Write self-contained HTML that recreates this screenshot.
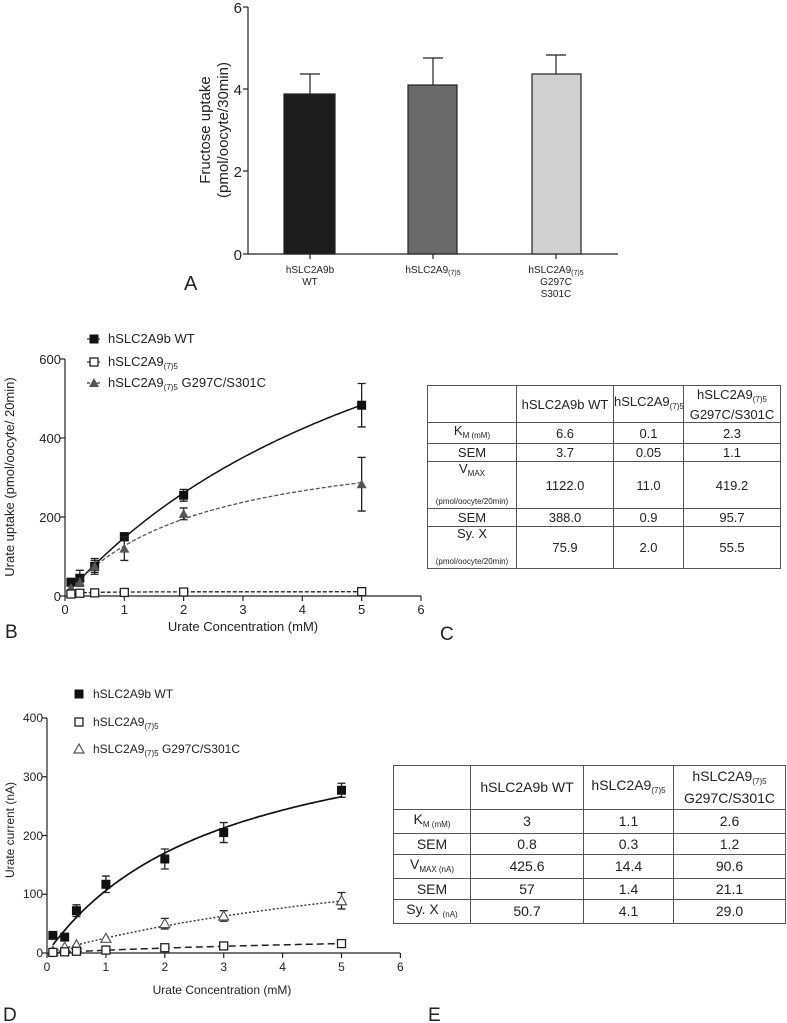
<!DOCTYPE html>
<html><head><meta charset="utf-8"><style>
body{margin:0;background:#fff;width:787px;height:1023px;overflow:hidden;font-family:"Liberation Sans",sans-serif}
svg{position:absolute;left:0;top:0}
table{position:absolute;border-collapse:collapse;font-family:"Liberation Sans",sans-serif;color:#222;table-layout:fixed}
td{border:1px solid #555;text-align:center;padding:0;font-size:13px;line-height:13px}
sub{font-size:8px;vertical-align:-3px}
small{font-size:8px}
</style></head><body>
<svg id="s" width="787" height="1023" font-family="Liberation Sans, sans-serif" fill="#222">
<g stroke="#222" stroke-width="1.2">
<line x1="248" y1="7" x2="248" y2="254"/><line x1="248" y1="254" x2="618" y2="254"/>
<line x1="243" y1="7" x2="248" y2="7"/><line x1="243" y1="89" x2="248" y2="89"/><line x1="243" y1="171" x2="248" y2="171"/><line x1="243" y1="254" x2="248" y2="254"/>
<line x1="310" y1="254" x2="310" y2="259"/><line x1="433" y1="254" x2="433" y2="259"/><line x1="556" y1="254" x2="556" y2="259"/>
<rect x="284" y="94" width="51" height="160" fill="#1c1c1c"/>
<rect x="408" y="85" width="49" height="169" fill="#6a6a6a"/>
<rect x="532" y="74" width="49" height="180" fill="#d0d0d0"/>
<line x1="310" y1="94" x2="310" y2="74"/><line x1="300" y1="74" x2="320" y2="74"/>
<line x1="433" y1="85" x2="433" y2="58"/><line x1="423" y1="58" x2="443" y2="58"/>
<line x1="556" y1="74" x2="556" y2="55"/><line x1="546" y1="55" x2="566" y2="55"/>
</g>
<g font-size="15" text-anchor="end"><text x="242" y="13">6</text><text x="242" y="95">4</text><text x="242" y="177">2</text><text x="242" y="260">0</text></g>
<text transform="translate(210,130) rotate(-90)" text-anchor="middle" font-size="15">Fructose uptake</text>
<text transform="translate(228,130) rotate(-90)" text-anchor="middle" font-size="15">(pmol/oocyte/30min)</text>
<g font-size="10" text-anchor="middle">
<text x="310" y="273">hSLC2A9b</text><text x="310" y="285">WT</text>
<text x="433" y="273">hSLC2A9<tspan font-size="7" dy="2">(7)5</tspan></text>
<text x="556" y="273">hSLC2A9<tspan font-size="7" dy="2">(7)5</tspan></text><text x="556" y="285">G297C</text><text x="556" y="297">S301C</text>
</g>
<text x="184" y="290" font-size="20">A</text>

<g stroke="#222" stroke-width="1.2">
<line x1="65" y1="359" x2="65" y2="596"/><line x1="65" y1="596" x2="421" y2="596"/>
</g>
<g id="tb"></g>
<g font-size="13" text-anchor="end"><text x="61" y="364">600</text><text x="61" y="443">400</text><text x="61" y="522">200</text><text x="61" y="601">0</text></g>
<g font-size="13" text-anchor="middle" id="xb"></g>
<text transform="translate(14,477) rotate(-90)" text-anchor="middle" font-size="13">Urate uptake (pmol/oocyte/ 20min)</text>
<text x="243" y="631" text-anchor="middle" font-size="13">Urate Concentration (mM)</text>
<text x="5" y="638" font-size="19">B</text>
<g font-size="13">
<text x="108" y="343">hSLC2A9b WT</text>
<text x="108" y="366">hSLC2A9<tspan font-size="8" dy="3">(7)5</tspan></text>
<text x="108" y="387">hSLC2A9<tspan font-size="8" dy="3">(7)5</tspan><tspan dy="-3"> G297C/S301C</tspan></text>
</g>
<g id="gb"></g>
<text x="440" y="640" font-size="19">C</text>

<g stroke="#222" stroke-width="1.2">
<line x1="47" y1="718" x2="47" y2="953"/><line x1="47" y1="953" x2="400" y2="953"/>
</g>
<g font-size="12" text-anchor="end"><text x="43" y="722">400</text><text x="43" y="781">300</text><text x="43" y="840">200</text><text x="43" y="898">100</text><text x="43" y="957">0</text></g>
<g font-size="12" text-anchor="middle" id="xd"></g>
<text transform="translate(14,830) rotate(-90)" text-anchor="middle" font-size="12">Urate current (nA)</text>
<text x="222" y="994" text-anchor="middle" font-size="12">Urate Concentration (mM)</text>
<text x="3" y="1021" font-size="19">D</text>
<g font-size="12">
<text x="93" y="698">hSLC2A9b WT</text>
<text x="93" y="726">hSLC2A9<tspan font-size="8" dy="3">(7)5</tspan></text>
<text x="93" y="753">hSLC2A9<tspan font-size="8" dy="3">(7)5</tspan><tspan dy="-3"> G297C/S301C</tspan></text>
</g>
<g id="gd"></g>
<text x="428" y="1021" font-size="19">E</text>
</svg>

<table style="left:427px;top:385px;width:353px;height:173px">
<colgroup><col style="width:89px"><col style="width:97px"><col style="width:70px"><col style="width:97px"></colgroup>
<tr style="height:37px"><td></td><td>hSLC2A9b WT</td><td>hSLC2A9<sub>(7)5</sub></td><td style="line-height:15px">hSLC2A9<sub>(7)5</sub><br>G297C/S301C</td></tr>
<tr style="height:21px"><td>K<sub>M (mM)</sub></td><td>6.6</td><td>0.1</td><td>2.3</td></tr>
<tr style="height:18px"><td>SEM</td><td>3.7</td><td>0.05</td><td>1.1</td></tr>
<tr style="height:42px"><td>V<sub>MAX</sub><br><br><small>(pmol/oocyte/20min)</small></td><td>1122.0</td><td>11.0</td><td>419.2</td></tr>
<tr style="height:18px"><td>SEM</td><td>388.0</td><td>0.9</td><td>95.7</td></tr>
<tr style="height:37px"><td>Sy. X<br><br><small>(pmol/oocyte/20min)</small></td><td>75.9</td><td>2.0</td><td>55.5</td></tr>
</table>

<table style="left:393px;top:765px;width:392px;height:158px">
<colgroup><col style="width:77px"><col style="width:113px"><col style="width:90px"><col style="width:112px"></colgroup>
<tr style="height:44px"><td style="font-size:14px">&nbsp;</td><td style="font-size:14px">hSLC2A9b WT</td><td style="font-size:14px">hSLC2A9<sub>(7)5</sub></td><td style="font-size:14px;line-height:17px">hSLC2A9<sub>(7)5</sub><br>G297C/S301C</td></tr>
<tr style="height:24px"><td style="font-size:14px">K<sub>M (mM)</sub></td><td style="font-size:14px">3</td><td style="font-size:14px">1.1</td><td style="font-size:14px">2.6</td></tr>
<tr style="height:21px"><td style="font-size:14px">SEM</td><td style="font-size:14px">0.8</td><td style="font-size:14px">0.3</td><td style="font-size:14px">1.2</td></tr>
<tr style="height:24px"><td style="font-size:14px">V<sub>MAX (nA)</sub></td><td style="font-size:14px">425.6</td><td style="font-size:14px">14.4</td><td style="font-size:14px">90.6</td></tr>
<tr style="height:21px"><td style="font-size:14px">SEM</td><td style="font-size:14px">57</td><td style="font-size:14px">1.4</td><td style="font-size:14px">21.1</td></tr>
<tr style="height:24px"><td style="font-size:14px">Sy. X <sub>(nA)</sub></td><td style="font-size:14px">50.7</td><td style="font-size:14px">4.1</td><td style="font-size:14px">29.0</td></tr>
</table>

<script>
var NS="http://www.w3.org/2000/svg";
function el(p,t,a){var e=document.createElementNS(NS,t);for(var k in a)e.setAttribute(k,a[k]);p.appendChild(e);return e;}
function chart(g,xg,x0,sx,y0,sy,yticks,fits,series,leg){
  for(var i=0;i<=6;i++){var X=x0+i*sx;el(g,"line",{x1:X,y1:y0,x2:X,y2:y0+5,stroke:"#222","stroke-width":1.2});var t=el(xg,"text",{x:X,y:y0+18});t.textContent=i;}
  yticks.forEach(function(v){var Y=y0-v*sy;el(g,"line",{x1:x0-5,y1:Y,x2:x0,y2:Y,stroke:"#222","stroke-width":1.2});});
  fits.forEach(function(f){var d="";for(var x=0.1;x<=5.001;x+=0.05){var y=f.V*x/(f.K+x);d+=(d?"L":"M")+(x0+x*sx).toFixed(1)+","+(y0-y*sy).toFixed(1);}
    el(g,"path",{d:d,fill:"none",stroke:f.c,"stroke-width":f.w||1.5,"stroke-dasharray":f.dash||""});});
  series.forEach(function(s){s.pts.forEach(function(p){var X=x0+p[0]*sx,Y=y0-p[1]*sy;
    if(p[2]){el(g,"path",{d:"M"+X+","+(Y-p[2]*sy)+"V"+(Y+p[2]*sy)+"M"+(X-4)+","+(Y-p[2]*sy)+"h8M"+(X-4)+","+(Y+p[2]*sy)+"h8",stroke:"#222","stroke-width":1.3,fill:"none"});}
    mark(g,s.m,X,Y);});});
  leg.forEach(function(l){if(l.line)el(g,"line",{x1:l.x-7,y1:l.y,x2:l.x+7,y2:l.y,stroke:"#333","stroke-width":1.2,"stroke-dasharray":l.line});mark(g,l.m,l.x,l.y);});
}
function mark(g,m,X,Y){
  if(m=="fs")el(g,"rect",{x:X-4.5,y:Y-4.5,width:9,height:9,fill:"#111"});
  else if(m=="os")el(g,"rect",{x:X-4,y:Y-4,width:8,height:8,fill:"#fff",stroke:"#222","stroke-width":1.3});
  else if(m=="ft")el(g,"path",{d:"M"+X+","+(Y-5)+"L"+(X+5)+","+(Y+4)+"L"+(X-5)+","+(Y+4)+"Z",fill:"#555"});
  else if(m=="ot")el(g,"path",{d:"M"+X+","+(Y-5)+"L"+(X+5)+","+(Y+4)+"L"+(X-5)+","+(Y+4)+"Z",fill:"#fff",stroke:"#555","stroke-width":1.2});
}
chart(document.getElementById("tb"),document.getElementById("xb"),65,59.33,596,0.395,[0,200,400,600],
 [{V:1122,K:6.6,c:"#111"},{V:419.2,K:2.3,c:"#555",dash:"4,2",w:1.3},{V:11,K:0.1,c:"#222",dash:"4,2",w:1.3}],
 [{m:"fs",pts:[[0.1,35,8],[0.25,45,20],[0.5,75,15],[1,150,10],[2,255,15],[5,483,55]]},
  {m:"ft",pts:[[0.1,20,5],[0.25,35,10],[0.5,75,20],[1,120,30],[2,208,15],[5,283,68]]},
  {m:"os",pts:[[0.1,5],[0.25,7],[0.5,8],[1,9],[2,10],[5,11]]}],
 [{m:"fs",x:94,y:339,line:"3,2"},{m:"os",x:94,y:362,line:"3,2"},{m:"ft",x:94,y:383,line:"3,2"}]);
chart(document.getElementById("gd"),document.getElementById("xd"),47,58.9,953,0.5875,[0,100,200,300,400],
 [{V:425.6,K:3,c:"#111",w:1.7},{V:230,K:8,c:"#333",dash:"2,2",w:1.4},{V:40,K:7.5,c:"#222",dash:"7,4",w:1.5}],
 [{m:"fs",pts:[[0.1,30],[0.3,27],[0.5,72,10],[1,117,14],[2,160,17],[3,205,17],[5,277,12]]},
  {m:"ot",pts:[[0.1,3],[0.3,10],[0.5,14],[1,25],[2,50,9],[3,63,9],[5,89,14]]},
  {m:"os",pts:[[0.1,1],[0.3,2],[0.5,3],[1,5],[2,9],[3,12],[5,16]]}],
 [{m:"fs",x:79,y:694},{m:"os",x:79,y:722},{m:"ot",x:79,y:749}]);
</script>
</body></html>
